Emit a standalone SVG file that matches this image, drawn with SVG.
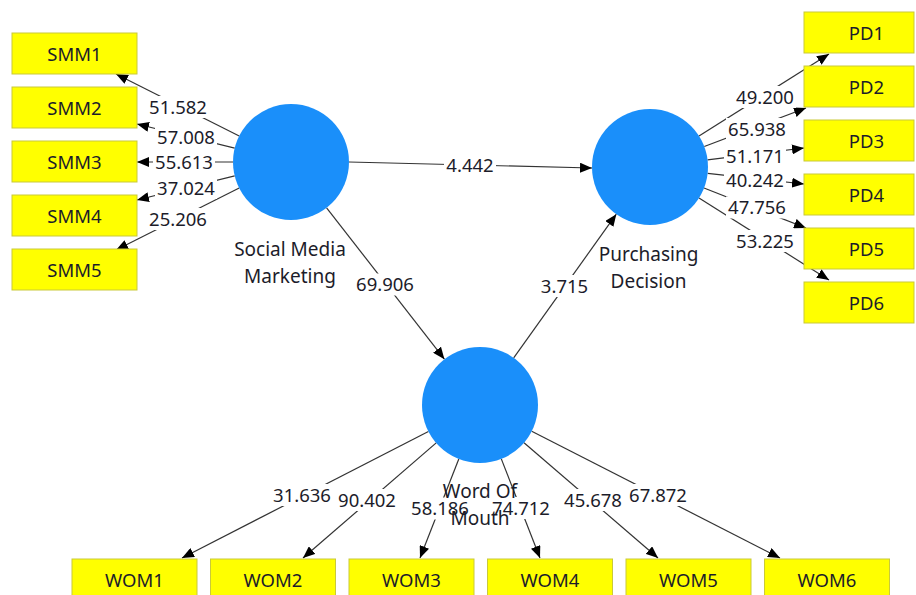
<svg xmlns="http://www.w3.org/2000/svg" width="916" height="595" viewBox="0 0 916 595">
<style>
.box{fill:#ffff00;stroke:#c9c93a;stroke-width:1}
.lv{fill:#1a8ffa}
.t{font-family:"Noto Sans","Open Sans","Liberation Sans",sans-serif;font-size:18.5px;fill:#1c1c2a;text-anchor:middle}
.lt{font-family:"Noto Sans","Open Sans","Liberation Sans",sans-serif;font-size:19px;fill:#1c1c2a;text-anchor:middle}
.ln{stroke:#333;stroke-width:1.2;fill:none;marker-end:url(#ah)}
.bg{fill:#fff}
</style>
<defs>
<marker id="ah" markerUnits="userSpaceOnUse" viewBox="0 0 12 10" refX="12" refY="5" markerWidth="12" markerHeight="10" orient="auto">
<path d="M0,0 L12,5 L0,10 Z" fill="#000"/>
</marker>
</defs>
<rect width="916" height="595" fill="#fff"/>
<g id="connectors">
<line class="ln" x1="239.2" y1="136" x2="116" y2="74"/>
<line class="ln" x1="234.7" y1="148.1" x2="137" y2="124"/>
<line class="ln" x1="233" y1="162" x2="137" y2="162"/>
<line class="ln" x1="234.7" y1="175.9" x2="137" y2="200"/>
<line class="ln" x1="239.2" y1="188" x2="116" y2="250"/>
<line class="ln" x1="699" y1="136" x2="829" y2="54"/>
<line class="ln" x1="704.3" y1="146.5" x2="806" y2="108"/>
<line class="ln" x1="707.5" y1="159.9" x2="804" y2="148"/>
<line class="ln" x1="707.7" y1="173.4" x2="804" y2="184"/>
<line class="ln" x1="704" y1="188" x2="806" y2="228"/>
<line class="ln" x1="699" y1="198" x2="829" y2="280"/>
<line class="ln" x1="428.4" y1="431.5" x2="182" y2="558"/>
<line class="ln" x1="436.2" y1="442.9" x2="303" y2="558"/>
<line class="ln" x1="458.8" y1="459" x2="420" y2="558"/>
<line class="ln" x1="501.3" y1="458.9" x2="540" y2="558"/>
<line class="ln" x1="524" y1="442.7" x2="658" y2="558"/>
<line class="ln" x1="531.7" y1="431.2" x2="780" y2="558"/>
<line class="ln" x1="349" y1="162" x2="592" y2="168"/>
<line class="ln" x1="326.6" y1="207.8" x2="444.4" y2="359.2"/>
<line class="ln" x1="513.7" y1="357.8" x2="616.3" y2="214.2"/>
<g id="edge-labels">
<rect class="bg" x="147" y="96" width="62" height="22"/><text class="t" x="178" y="113.6">51.582</text>
<rect class="bg" x="155" y="126" width="62" height="22"/><text class="t" x="186" y="143.6">57.008</text>
<rect class="bg" x="153" y="151.5" width="62" height="22"/><text class="t" x="184" y="169.1">55.613</text>
<rect class="bg" x="155" y="177" width="62" height="22"/><text class="t" x="186" y="194.6">37.024</text>
<rect class="bg" x="147" y="208" width="62" height="22"/><text class="t" x="178" y="225.6">25.206</text>
<rect class="bg" x="734" y="86" width="62" height="22"/><text class="t" x="765" y="103.6">49.200</text>
<rect class="bg" x="726" y="118" width="62" height="22"/><text class="t" x="757" y="135.6">65.938</text>
<rect class="bg" x="724" y="145" width="62" height="22"/><text class="t" x="755" y="162.6">51.171</text>
<rect class="bg" x="724" y="169" width="62" height="22"/><text class="t" x="755" y="186.6">40.242</text>
<rect class="bg" x="726" y="196.5" width="62" height="22"/><text class="t" x="757" y="214.1">47.756</text>
<rect class="bg" x="734" y="230" width="62" height="22"/><text class="t" x="765" y="247.6">53.225</text>
<rect class="bg" x="271" y="484" width="62" height="22"/><text class="t" x="302" y="501.6">31.636</text>
<rect class="bg" x="336" y="489" width="62" height="22"/><text class="t" x="367" y="506.6">90.402</text>
<rect class="bg" x="409" y="497.5" width="62" height="22"/><text class="t" x="440" y="515.1">58.186</text>
<rect class="bg" x="490" y="497" width="62" height="22"/><text class="t" x="521" y="514.6">74.712</text>
<rect class="bg" x="562" y="489" width="62" height="22"/><text class="t" x="593" y="506.6">45.678</text>
<rect class="bg" x="627" y="484" width="62" height="22"/><text class="t" x="658" y="501.6">67.872</text>
<rect class="bg" x="444" y="154" width="52" height="22"/><text class="t" x="470" y="171.6">4.442</text>
<rect class="bg" x="354" y="273.5" width="62" height="22"/><text class="t" x="385" y="291.1">69.906</text>
<rect class="bg" x="538.5" y="275" width="52" height="22"/><text class="t" x="564.5" y="292.6">3.715</text>
</g>
</g>
<g id="SMM1"><rect class="box" x="12" y="33" width="125" height="41"/><text class="t" x="74.5" y="61">SMM1</text></g>
<g id="SMM2"><rect class="box" x="12" y="87" width="125" height="41"/><text class="t" x="74.5" y="115">SMM2</text></g>
<g id="SMM3"><rect class="box" x="12" y="141" width="125" height="41"/><text class="t" x="74.5" y="169">SMM3</text></g>
<g id="SMM4"><rect class="box" x="12" y="195" width="125" height="41"/><text class="t" x="74.5" y="223">SMM4</text></g>
<g id="SMM5"><rect class="box" x="12" y="249" width="125" height="41"/><text class="t" x="74.5" y="277">SMM5</text></g>
<g id="PD1"><rect class="box" x="804" y="12" width="110" height="41"/><text class="t" x="866.5" y="40">PD1</text></g>
<g id="PD2"><rect class="box" x="804" y="66" width="110" height="41"/><text class="t" x="866.5" y="94">PD2</text></g>
<g id="PD3"><rect class="box" x="804" y="120" width="110" height="41"/><text class="t" x="866.5" y="148">PD3</text></g>
<g id="PD4"><rect class="box" x="804" y="174" width="110" height="41"/><text class="t" x="866.5" y="202">PD4</text></g>
<g id="PD5"><rect class="box" x="804" y="228" width="110" height="41"/><text class="t" x="866.5" y="256">PD5</text></g>
<g id="PD6"><rect class="box" x="804" y="282" width="110" height="41"/><text class="t" x="866.5" y="310">PD6</text></g>
<g id="WOM1"><rect class="box" x="72" y="559" width="125" height="41"/><text class="t" x="134.5" y="587">WOM1</text></g>
<g id="WOM2"><rect class="box" x="210.5" y="559" width="125" height="41"/><text class="t" x="273" y="587">WOM2</text></g>
<g id="WOM3"><rect class="box" x="349" y="559" width="125" height="41"/><text class="t" x="411.5" y="587">WOM3</text></g>
<g id="WOM4"><rect class="box" x="487.5" y="559" width="125" height="41"/><text class="t" x="550" y="587">WOM4</text></g>
<g id="WOM5"><rect class="box" x="626" y="559" width="125" height="41"/><text class="t" x="688.5" y="587">WOM5</text></g>
<g id="WOM6"><rect class="box" x="764.5" y="559" width="125" height="41"/><text class="t" x="827" y="587">WOM6</text></g>
<g id="SocialMediaMarketing"><circle class="lv" cx="291" cy="162" r="58"/><text class="lt" x="290" y="256">Social Media</text><text class="lt" x="290" y="283">Marketing</text></g>
<g id="PurchasingDecision"><circle class="lv" cx="650" cy="167" r="58"/><text class="lt" x="648.5" y="261">Purchasing</text><text class="lt" x="648.5" y="288">Decision</text></g>
<g id="WordOfMouth"><circle class="lv" cx="480" cy="405" r="58"/><text class="lt" x="480" y="498">Word Of</text><text class="lt" x="480" y="525">Mouth</text></g>
</svg>
